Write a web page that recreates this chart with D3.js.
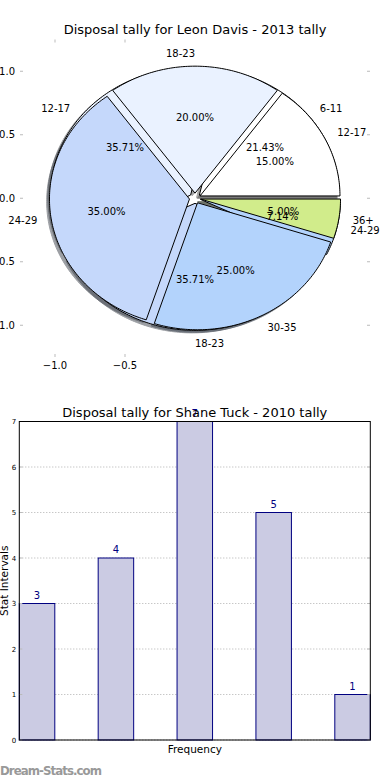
<!DOCTYPE html>
<html><head><meta charset="utf-8">
<script src="https://cdn.jsdelivr.net/npm/d3@7"></script>
<style>
body{margin:0;background:#fff}
svg{display:block}
text{font-family:"DejaVu Sans",sans-serif}
</style>
</head><body>
<svg id="c" width="390" height="780"></svg>
<script>
// ---------- data ----------
const pieTitle = "Disposal tally for Leon Davis - 2013 tally";
const pieBackLabels = ["6-11", "12-17", "18-23", "24-29"];
const pieBackValues = [3, 5, 5, 1];
const pieFrontLabels = ["12-17", "18-23", "24-29", "30-35", "36+"];
const pieFrontValues = [3, 4, 7, 5, 1];
const pieColors = ["#ffffff", "#eaf2ff", "#c5d8fb", "#b3d3fc", "#d1ec8b"];
const pieXTicks = [-1.0, -0.5];
const pieYTicks = [1.0, 0.5, 0.0, -0.5, -1.0];

const barTitle = "Disposal tally for Shane Tuck - 2010 tally";
const barValues = [3, 4, 7, 5, 1];
const barYTicks = [0, 1, 2, 3, 4, 5, 6, 7];
const barXLabel = "Frequency";
const barYLabel = "Stat Intervals";
const watermark = "Dream-Stats.com";

// ---------- setup ----------
const svg = d3.select("#c");
const EXPLODE = 0.04, LABEL_D = 1.1, PCT_D = 0.6;
const fmtPct = d3.format(".2f");
const fmtTick = d3.format(".1f");

// ---------- pie ----------
const px = d3.scaleLinear().domain([-1.25, 1.25]).range([20, 370]);
const py = d3.scaleLinear().domain([-1.25, 1.25]).range([357, 39.5]);
const line = d3.line().x(d => px(d[0])).y(d => py(d[1]));

function wedges(values, labels) {
  const total = d3.sum(values);
  let acc = 0;
  return values.map((v, i) => {
    const t1 = acc / total * 2 * Math.PI; acc += v;
    const t2 = acc / total * 2 * Math.PI;
    const tm = (t1 + t2) / 2;
    return {i, v, label: labels[i], t1, t2, tm, frac: v / total,
            cx: EXPLODE * Math.cos(tm), cy: EXPLODE * Math.sin(tm), color: pieColors[i]};
  });
}
function wedgePath(w, ox, oy) {
  const n = Math.max(4, Math.ceil((w.t2 - w.t1) / (Math.PI / 180)));
  const pts = [[w.cx + ox, w.cy + oy]];
  for (let k = 0; k <= n; k++) {
    const t = w.t1 + (w.t2 - w.t1) * k / n;
    pts.push([w.cx + ox + Math.cos(t), w.cy + oy + Math.sin(t)]);
  }
  return line(pts) + "Z";
}
const back = wedges(pieBackValues, pieBackLabels);
const front = wedges(pieFrontValues, pieFrontLabels);
const all = back.concat(front);

const gPie = svg.append("g");
// shadows
gPie.selectAll("path.sh").data(all).join("path").attr("class", "sh")
  .attr("d", w => wedgePath(w, -0.02, -0.02))
  .each(function (w) {
    const c = d3.rgb(w.color);
    const s = d3.rgb(c.r * 0.3, c.g * 0.3, c.b * 0.3).toString();
    d3.select(this).attr("fill", s).attr("stroke", s).attr("stroke-width", 1).attr("opacity", 0.5);
  });
// wedges
gPie.selectAll("path.wd").data(all).join("path").attr("class", "wd")
  .attr("d", w => wedgePath(w, 0, 0))
  .attr("fill", w => w.color).attr("stroke", "#000").attr("stroke-width", 1)
  .attr("stroke-linejoin", "miter");

function anchorFor(w) {
  const c = Math.cos(w.tm);
  if (Math.abs(c) < 1e-9) return Math.sin(w.tm) > 0 ? "end" : "start";
  return c > 0 ? "start" : "end";
}
gPie.selectAll("text.lb").data(all).join("text").attr("class", "lb")
  .attr("x", w => px(w.cx + LABEL_D * Math.cos(w.tm)))
  .attr("y", w => py(w.cy + LABEL_D * Math.sin(w.tm)))
  .attr("dy", "0.36em").attr("text-anchor", anchorFor)
  .attr("font-size", 10).attr("fill", "#000").text(w => w.label);
gPie.selectAll("text.pc").data(all).join("text").attr("class", "pc")
  .attr("x", w => px(w.cx + PCT_D * Math.cos(w.tm)))
  .attr("y", w => py(w.cy + PCT_D * Math.sin(w.tm)))
  .attr("dy", "0.36em").attr("text-anchor", "middle")
  .attr("font-size", 10).attr("fill", "#000").text(w => fmtPct(w.frac * 100) + "%");

// pie axes ticks
const tickCol = "#bbbbbb";
const [pl, pr] = px.range(), [pb, pt] = py.range();
pieYTicks.forEach(t => {
  gPie.append("line").attr("x1", pl).attr("x2", pl + 3).attr("y1", py(t)).attr("y2", py(t)).attr("stroke", tickCol);
  gPie.append("line").attr("x1", pr - 3).attr("x2", pr).attr("y1", py(t)).attr("y2", py(t)).attr("stroke", tickCol);
  gPie.append("text").attr("x", pl - 5).attr("y", py(t)).attr("dy", "0.36em").attr("text-anchor", "end")
    .attr("font-size", 10).text(fmtTick(t));
});
pieXTicks.forEach(t => {
  gPie.append("line").attr("x1", px(t)).attr("x2", px(t)).attr("y1", pt).attr("y2", pt + 3).attr("stroke", tickCol);
  gPie.append("line").attr("x1", px(t)).attr("x2", px(t)).attr("y1", pb - 3).attr("y2", pb).attr("stroke", tickCol);
  gPie.append("text").attr("x", px(t)).attr("y", pb + 12).attr("text-anchor", "middle")
    .attr("font-size", 10).text(fmtTick(t));
});
gPie.append("text").attr("x", px(0)).attr("y", 34.3).attr("text-anchor", "middle")
  .attr("font-size", 13).text(pieTitle);

// ---------- bars ----------
const BW = 0.45;
const bx = d3.scaleLinear().domain([0, barValues.length - 1 + BW]).range([19.3, 370.3]);
const by = d3.scaleLinear().domain([0, 7]).range([740, 421.5]);
const gBar = svg.append("g");
// grid
gBar.selectAll("line.grid").data(barYTicks).join("line").attr("class", "grid")
  .attr("x1", bx.range()[0]).attr("x2", bx.range()[1])
  .attr("y1", d => by(d)).attr("y2", d => by(d))
  .attr("stroke", "#b0b0b0").attr("stroke-dasharray", "1,2");
// bars
gBar.selectAll("rect.bar").data(barValues).join("rect").attr("class", "bar")
  .attr("x", (d, i) => bx(i)).attr("width", (d, i) => bx(i + BW) - bx(i))
  .attr("y", d => by(d)).attr("height", d => by(0) - by(d))
  .attr("fill", "#cbcbe3").attr("stroke", "#000080").attr("stroke-width", 1);
gBar.selectAll("text.val").data(barValues).join("text").attr("class", "val")
  .attr("x", (d, i) => (bx(i) + bx(i + BW)) / 2).attr("y", d => by(d) - 5)
  .attr("text-anchor", "middle").attr("font-size", 10).attr("fill", "#000080").text(d => d);
// ticks
const [bl, br] = bx.range();
barYTicks.forEach(t => {
  gBar.append("line").attr("x1", bl).attr("x2", bl + 3).attr("y1", by(t)).attr("y2", by(t)).attr("stroke", tickCol);
  gBar.append("line").attr("x1", br - 3).attr("x2", br).attr("y1", by(t)).attr("y2", by(t)).attr("stroke", tickCol);
  gBar.append("text").attr("x", bl - 3).attr("y", by(t)).attr("dy", "0.36em").attr("text-anchor", "end")
    .attr("font-size", 7).text(t);
});
// frame
gBar.append("rect").attr("x", bl).attr("y", by(7)).attr("width", br - bl).attr("height", by(0) - by(7))
  .attr("fill", "none").attr("stroke", "#000").attr("stroke-width", 1);
gBar.append("text").attr("x", (bl + br) / 2).attr("y", 416.5).attr("text-anchor", "middle")
  .attr("font-size", 13).text(barTitle);
gBar.append("text").attr("x", (bl + br) / 2).attr("y", 752.5).attr("text-anchor", "middle")
  .attr("font-size", 10.5).text(barXLabel);
gBar.append("text").attr("transform", `translate(8,${(by(0) + by(7)) / 2}) rotate(-90)`)
  .attr("text-anchor", "middle").attr("font-size", 10.5).text(barYLabel);
svg.append("text").attr("x", 0).attr("y", 774.5).attr("font-size", 11.8).attr("fill", "#999")
  .attr("font-weight", "bold").attr("textLength", 102).text(watermark);
</script>
</body></html>
